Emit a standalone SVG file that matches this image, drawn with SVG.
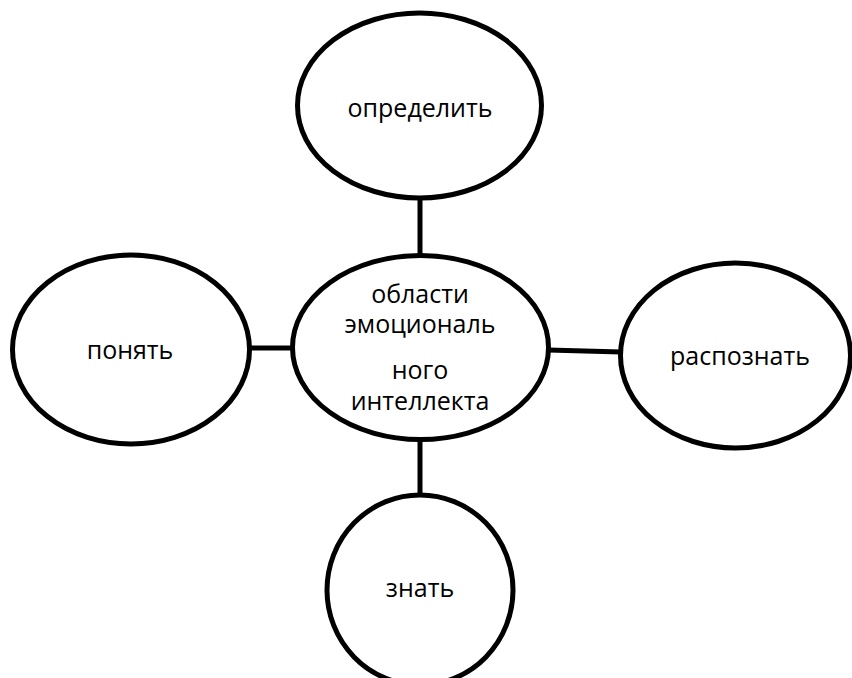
<svg xmlns="http://www.w3.org/2000/svg" width="852" height="678" viewBox="0 0 852 678">
<style>
.n{fill:#fff;stroke:#000;stroke-width:5}
.c{stroke:#000;stroke-width:5;fill:none}
text{font-family:"Open Sans","Noto Sans","DejaVu Sans",sans-serif;font-size:25px;fill:#000;text-anchor:middle}
</style>
<rect width="852" height="678" fill="#fff"/>
<g id="connectors">
<line class="c" x1="420" y1="198" x2="420" y2="256"/>
<line class="c" x1="250" y1="348" x2="293" y2="348"/>
<line class="c" x1="548" y1="350" x2="621" y2="352"/>
<line class="c" x1="420" y1="439" x2="420" y2="496"/>
</g>
<g id="node-top">
<ellipse class="n" cx="419.5" cy="105.5" rx="122" ry="92.5"/>
<text x="420" y="117">определить</text>
</g>
<g id="node-center">
<ellipse class="n" cx="420.5" cy="347.5" rx="128" ry="92"/>
<text x="420" y="303">области</text>
<text x="420" y="333">эмоциональ</text>
<text x="420" y="379">ного</text>
<text x="420" y="410">интеллекта</text>
</g>
<g id="node-left">
<ellipse class="n" cx="131" cy="349.5" rx="118.5" ry="94.5"/>
<text x="130" y="359">понять</text>
</g>
<g id="node-right">
<ellipse class="n" cx="735.5" cy="355.5" rx="115" ry="92.5"/>
<text x="740" y="365">распознать</text>
</g>
<g id="node-bottom">
<ellipse class="n" cx="420" cy="590" rx="93" ry="95"/>
<text x="420" y="597">знать</text>
</g>
</svg>
